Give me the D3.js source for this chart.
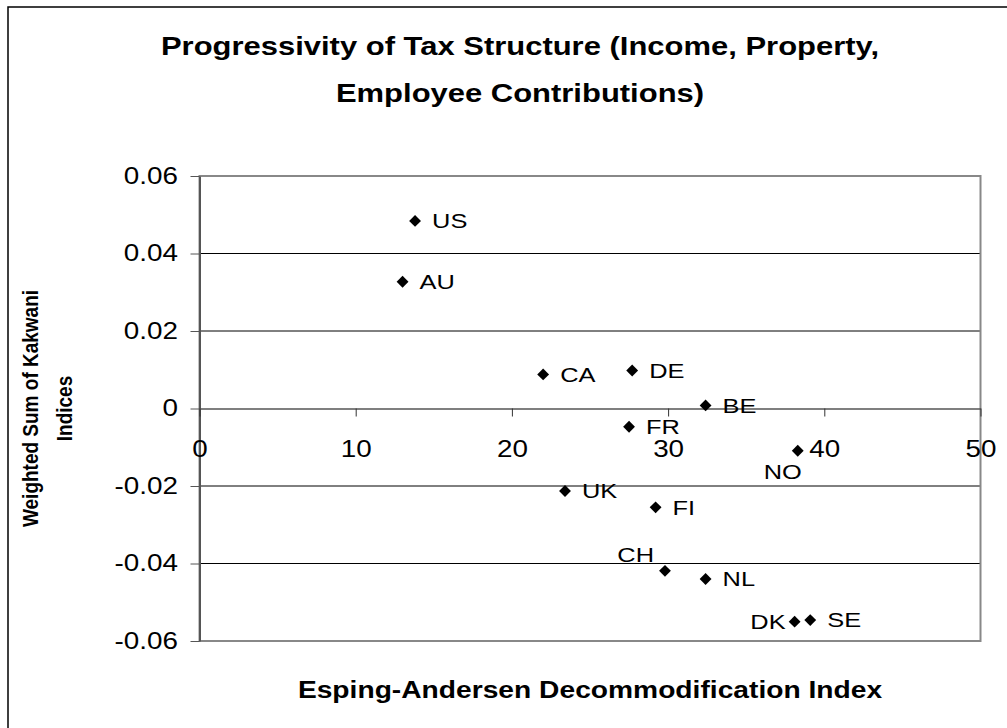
<!DOCTYPE html>
<html>
<head>
<meta charset="utf-8">
<script src="https://d3js.org/d3.v7.min.js"></script>
<style>
  body { margin: 0; background: #fff; }
  text { font-family: "Liberation Sans", Arial, sans-serif; fill: #000; }
</style>
</head>
<body>
<svg id="chart" width="1007" height="728"></svg>
<script>
// data
const countries = ["US", "AU", "CA", "DE", "BE", "FR", "UK", "FI", "CH", "NL", "DK", "SE", "NO"];
const decommodification = [13.8, 13.0, 22.0, 27.7, 32.4, 27.5, 23.4, 29.2, 29.8, 32.4, 38.1, 39.1, 38.3];
const kakwaniSum = [0.0484, 0.0327, 0.0088, 0.0098, 0.0008, -0.0047, -0.0213, -0.0255, -0.0419, -0.0440, -0.0550, -0.0546, -0.0109];

const xTicks = [0, 10, 20, 30, 40, 50];
const xTickLabels = ["0", "10", "20", "30", "40", "50"];
const yTicks = [-0.06, -0.04, -0.02, 0, 0.02, 0.04, 0.06];
const yTickLabels = ["-0.06", "-0.04", "-0.02", "0", "0.02", "0.04", "0.06"];

// labels that were moved away from the default right-hand spot
const labelSpot = { CH: "aboveLeft", DK: "left", NO: "belowLeft" };

const sx = 1.21; // the picture is stretched sideways, text too
const svg = d3.select("#chart");

const plotLeft = 199.5, plotRight = 980.5, plotTop = 176, plotBottom = 641;
const x = d3.scaleLinear().domain([0, 50]).range([plotLeft, plotRight]);
const y = d3.scaleLinear().domain([-0.06, 0.06]).range([plotBottom, plotTop]);

// outer chart frame (cut off at right and bottom)
svg.append("rect")
  .attr("x", 8).attr("y", 7)
  .attr("width", 1100).attr("height", 800)
  .attr("fill", "none").attr("stroke", "#000").attr("stroke-width", 1.5);

// gridlines
svg.append("g")
  .selectAll("line")
  .data(yTicks.filter(d => d !== 0 && Math.abs(d) < 0.059))
  .enter().append("line")
  .attr("x1", plotLeft).attr("x2", plotRight)
  .attr("y1", d => y(d)).attr("y2", d => y(d))
  .attr("stroke", "#000").attr("stroke-width", 1);

// plot frame
svg.append("rect")
  .attr("x", plotLeft).attr("y", plotTop)
  .attr("width", plotRight - plotLeft).attr("height", plotBottom - plotTop)
  .attr("fill", "none").attr("stroke", "#888").attr("stroke-width", 2);

// y axis
const yAxis = svg.append("g")
  .attr("transform", "translate(" + plotLeft + ",0)")
  .call(d3.axisLeft(y).tickValues(yTicks).tickSize(9).tickSizeOuter(0)
    .tickFormat((d, i) => yTickLabels[i]));
yAxis.select(".domain").attr("stroke", "#555").attr("stroke-width", 2);
yAxis.selectAll(".tick line").attr("stroke", "#555");
yAxis.selectAll("text")
  .attr("font-size", 23)
  .attr("x", -21.5 / sx)
  .attr("transform", "scale(" + sx + ",1)");

// x axis along zero
const xAxis = svg.append("g")
  .attr("transform", "translate(0," + y(0) + ")")
  .call(d3.axisBottom(x).tickValues(xTicks).tickSize(8).tickSizeOuter(0)
    .tickFormat((d, i) => xTickLabels[i]));
xAxis.select(".domain").attr("stroke", "#555").attr("stroke-width", 1.5);
xAxis.selectAll(".tick line").attr("stroke", "#333");
xAxis.selectAll("text")
  .attr("font-size", 23)
  .attr("y", 40).attr("dy", "0.35em")
  .attr("transform", "scale(" + sx + ",1)");

// points
const pts = countries.map((c, i) => ({ name: c, xv: decommodification[i], yv: kakwaniSum[i] }));

svg.append("g")
  .selectAll("path")
  .data(pts)
  .enter().append("path")
  .attr("d", d3.symbol().type(d3.symbolSquare).size(70))
  .attr("transform", d => "translate(" + x(d.xv) + "," + y(d.yv) + ") rotate(45)")
  .attr("fill", "#000");

function labelPos(d) {
  const px = x(d.xv), py = y(d.yv);
  const spot = labelSpot[d.name];
  if (spot === "aboveLeft") return [px - 11, py - 16, "end"];
  if (spot === "left") return [px - 9, py, "end"];
  if (spot === "belowLeft") return [px + 4, py + 21, "end"];
  return [px + 17, py, "start"];
}

svg.append("g")
  .selectAll("text")
  .data(pts)
  .enter().append("text")
  .text(d => d.name)
  .attr("font-size", 21)
  .attr("dy", "0.35em")
  .attr("text-anchor", d => labelPos(d)[2])
  .attr("transform", d => { const p = labelPos(d); return "translate(" + p[0] + "," + p[1] + ") scale(" + sx + ",1)"; });

// title
const title = svg.append("text")
  .attr("font-size", 25.6).attr("font-weight", "bold")
  .attr("text-anchor", "middle")
  .attr("transform", "translate(520,0) scale(" + sx + ",1)");
title.append("tspan").attr("x", 0).attr("y", 55).text("Progressivity of Tax Structure (Income, Property,");
title.append("tspan").attr("x", 0).attr("y", 102).text("Employee Contributions)");

// axis titles
svg.append("text")
  .attr("font-size", 23.3).attr("font-weight", "bold")
  .attr("text-anchor", "middle")
  .attr("transform", "translate(" + ((plotLeft + plotRight) / 2) + ",698) scale(" + sx + ",1)")
  .text("Esping-Andersen Decommodification Index");

svg.append("text")
  .attr("font-size", 19).attr("font-weight", "bold")
  .attr("text-anchor", "middle")
  .attr("transform", "translate(37.5," + ((plotTop + plotBottom) / 2) + ") scale(" + sx + ",1) rotate(-90)")
  .text("Weighted Sum of Kakwani");

svg.append("text")
  .attr("font-size", 19).attr("font-weight", "bold")
  .attr("text-anchor", "middle")
  .attr("transform", "translate(72," + ((plotTop + plotBottom) / 2) + ") scale(" + sx + ",1) rotate(-90)")
  .text("Indices");
</script>
</body>
</html>
